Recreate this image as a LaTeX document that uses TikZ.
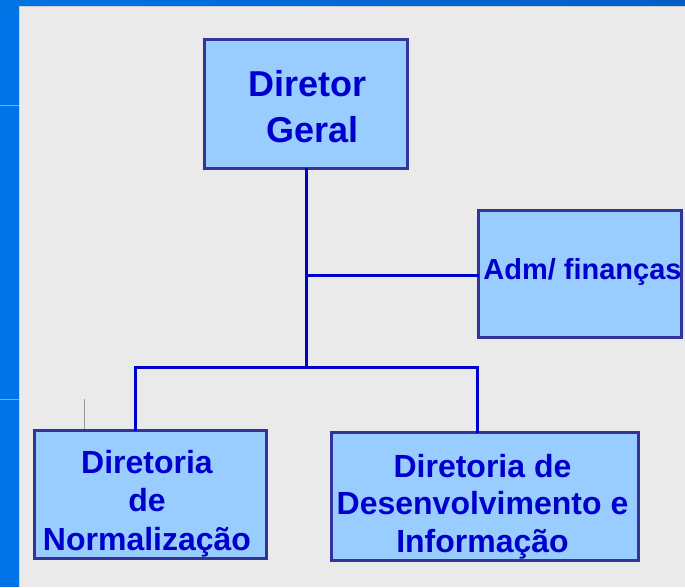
\documentclass[tikz,border=0pt]{standalone}
\usepackage{fontspec}
\setmainfont{Liberation Sans}
\definecolor{bgblue}{HTML}{0073E6}
\definecolor{bgbluedark}{HTML}{005EC6}
\definecolor{panel}{HTML}{EAEAEA}
\definecolor{paneledge}{HTML}{CFCFCF}
\definecolor{boxfill}{HTML}{99CCFF}
\definecolor{boxedge}{HTML}{333399}
\definecolor{linkblue}{HTML}{0000CC}
\begin{document}
\begin{tikzpicture}[x=1pt,y=-1pt,
  orgbox/.style={draw=boxedge, fill=boxfill, line width=2.8pt, rectangle, inner sep=0pt},
  lbl/.style={text=linkblue, align=center, inner sep=0pt, font=\bfseries},
  link/.style={draw=linkblue, line width=3pt, line cap=rect}]
% background
\useasboundingbox (0,0) rectangle (685,587);
\fill[bgblue] (0,0) rectangle (685,587);
\shade[left color=bgblue, right color=bgbluedark] (0,0) rectangle (685,6);
\fill[panel] (19,6) rectangle (685,587);
\draw[paneledge, line width=1pt] (19.5,587) -- (19.5,6.5) -- (685,6.5);
\draw[gray!70, line width=0.8pt] (0,105) -- (19,105);
\draw[gray!70, line width=0.8pt] (0,399) -- (19,399);
% boxes
\node[orgbox, minimum width=203, minimum height=129] (dg) at (306,104) {};
\node[orgbox, minimum width=203, minimum height=127] (adm) at (580,274) {};
\node[orgbox, minimum width=232, minimum height=128] (dn) at (150.5,494.5) {};
\node[orgbox, minimum width=307, minimum height=128] (ddi) at (485,496.5) {};
% texts (anchor=base is the baseline of the last line)
\node[lbl, font=\bfseries\fontsize{36}{46}\selectfont, anchor=base] (dgt) at (307.5,142) {Diretor\\\ Geral};
\node[lbl, font=\bfseries\fontsize{29}{34}\selectfont, anchor=base] (admt) at (582.5,279) {Adm/ finanças};
\node[lbl, font=\bfseries\fontsize{32}{38.5}\selectfont, anchor=base] (dnt) at (147,550) {Diretoria\\de\\Normalização};
\node[lbl, font=\bfseries\fontsize{32}{37.2}\selectfont, anchor=base] (ddit) at (482.5,552) {Diretoria de\\Desenvolvimento e\\Informação};
% connectors
\coordinate (jA) at (306,275);
\coordinate (jB) at (306,367);
\coordinate (cL) at (135,367);
\coordinate (cR) at (477,367);
\draw[link] (dg.south) -- (jB);
\draw[link] (jA) -- (jA -| adm.west);
\draw[link] (cL) -- (cR);
\draw[link] (cL) -- (cL |- dn.north);
\draw[link] (cR) -- (cR |- ddi.north);
% stray thin mark
\coordinate (sm) at (84,399);
\draw[gray!80, line width=0.8pt] (sm) -- (sm |- dn.north);
\end{tikzpicture}
\end{document}
